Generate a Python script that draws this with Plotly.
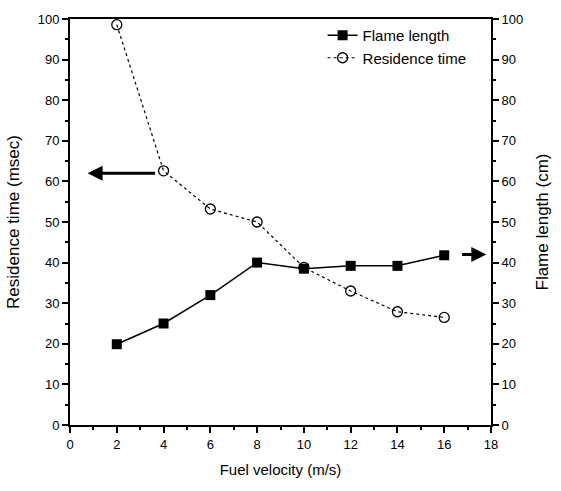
import plotly.graph_objects as go

fuel_velocity = [2, 4, 6, 8, 10, 12, 14, 16]
flame_length = [19.9, 25, 32, 40, 38.5, 39.2, 39.2, 41.8]
residence_time = [98.6, 62.6, 53.2, 50, 38.8, 33, 27.9, 26.5]

FONT = "Liberation Sans, Arial, sans-serif"

fig = go.Figure()
fig.add_trace(go.Scatter(
    x=fuel_velocity, y=flame_length, name="Flame length", yaxis="y2",
    mode="lines+markers",
    line=dict(color="black", width=1.5),
    marker=dict(symbol="square", size=10, color="black"),
))
fig.add_trace(go.Scatter(
    x=fuel_velocity, y=residence_time, name="Residence time",
    mode="lines+markers",
    line=dict(color="black", width=1.2, dash="dot"),
    marker=dict(symbol="circle-open", size=10, color="black", line=dict(width=1.3)),
))

axis_common = dict(
    showgrid=False, zeroline=False, showline=True, linecolor="black", linewidth=2,
    ticks="outside", ticklen=6, tickwidth=1.5, tickcolor="black",
    tickfont=dict(family=FONT, size=13, color="black"),
)

fig.update_layout(
    width=561, height=491,
    margin=dict(l=67, r=70, t=13, b=66),
    plot_bgcolor="white", paper_bgcolor="white",
    font=dict(family=FONT, color="black"),
    showlegend=True,
    legend=dict(x=0.6, y=1.0, xanchor="left", yanchor="top",
                bgcolor="rgba(0,0,0,0)", borderwidth=0,
                font=dict(family=FONT, size=15, color="black"),
                tracegroupgap=0, itemwidth=30),
    xaxis=dict(
        range=[0, 18], dtick=2, mirror=True,
        minor=dict(dtick=1, ticks="outside", ticklen=3, tickcolor="black"),
        title=dict(text="Fuel velocity (m/s)", font=dict(family=FONT, size=15, color="black"), standoff=14),
        **axis_common,
    ),
    yaxis=dict(
        range=[0, 100], dtick=10,
        minor=dict(dtick=5, ticks="outside", ticklen=3, tickcolor="black"),
        title=dict(text="Residence time (msec)", font=dict(family=FONT, size=17, color="black"), standoff=14),
        **axis_common,
    ),
    yaxis2=dict(
        range=[0, 100], dtick=10, overlaying="y", side="right",
        minor=dict(dtick=5, ticks="outside", ticklen=3, tickcolor="black"),
        title=dict(text="Flame length (cm)", font=dict(family=FONT, size=17, color="black"), standoff=14),
        **axis_common,
    ),
)

fig.add_annotation(x=0.75, y=62, ax=3.7, ay=62, xref="x", yref="y", axref="x", ayref="y",
                   text="", showarrow=True, arrowhead=2, arrowsize=1, arrowwidth=3, arrowcolor="black")
fig.add_annotation(x=17.8, y=42, ax=16.7, ay=42, xref="x", yref="y", axref="x", ayref="y",
                   text="", showarrow=True, arrowhead=2, arrowsize=1, arrowwidth=3, arrowcolor="black")

fig.write_html("out.html")
